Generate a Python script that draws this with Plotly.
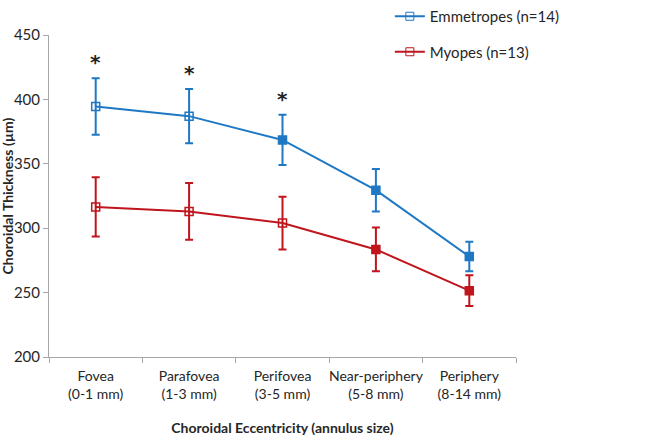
import plotly.graph_objects as go

categories = ["Fovea<br>(0-1 mm)", "Parafovea<br>(1-3 mm)", "Perifovea<br>(3-5 mm)",
              "Near-periphery<br>(5-8 mm)", "Periphery<br>(8-14 mm)"]
emm_mean = [394.5, 387, 368.5, 329.5, 278]
emm_sd = [22, 21, 19.5, 16.5, 11.5]
myo_mean = [316.5, 313, 304, 283.5, 251.5]
myo_sd = [23, 22, 20.5, 17, 12]
emm_symbols = ["square-open", "square-open", "square", "square", "square"]
myo_symbols = ["square-open", "square-open", "square-open", "square", "square"]
sig_cats = [0, 1, 2]

BLUE = "#1F78C4"
RED = "#C0151C"
FONT = "Lato"

fig = go.Figure()
fig.add_trace(go.Scatter(
    x=categories, y=emm_mean, mode="lines+markers", showlegend=False,
    line=dict(color=BLUE, width=2),
    marker=dict(symbol=emm_symbols, size=8, color=BLUE, line=dict(color=BLUE, width=1.5)),
    error_y=dict(type="data", array=emm_sd, color=BLUE, thickness=2, width=4)))
fig.add_trace(go.Scatter(
    x=categories, y=myo_mean, mode="lines+markers", showlegend=False,
    line=dict(color=RED, width=2),
    marker=dict(symbol=myo_symbols, size=8, color=RED, line=dict(color=RED, width=1.5)),
    error_y=dict(type="data", array=myo_sd, color=RED, thickness=2, width=4)))

fig.add_trace(go.Scatter(x=[None], y=[None], mode="lines+markers", name="Emmetropes (n=14)",
                         legendgroup="a",
                         line=dict(color=BLUE, width=2),
                         marker=dict(symbol="square-open", size=8, color=BLUE)))
fig.add_trace(go.Scatter(x=[None], y=[None], mode="lines+markers", name="Myopes (n=13)",
                         legendgroup="b",
                         line=dict(color=RED, width=2),
                         marker=dict(symbol="square-open", size=8, color=RED)))

for i in sig_cats:
    fig.add_annotation(x=categories[i], y=emm_mean[i] + emm_sd[i], text="<b>*</b>",
                       showarrow=False, yanchor="bottom", yshift=2,
                       font=dict(size=20, color="#222222", family="DejaVu Sans"))

fig.add_annotation(xref="paper", yref="paper", x=-0.089, y=0.5, textangle=-90,
                   text="<b>Choroidal Thickness (µm)</b>", showarrow=False,
                   xanchor="center", yanchor="middle",
                   font=dict(size=14, color="#262626", family=FONT))

fig.update_layout(
    width=663, height=436,
    margin=dict(l=49, r=147, t=35, b=79, autoexpand=False),
    plot_bgcolor="white", paper_bgcolor="white",
    font=dict(family=FONT, size=14, color="#262626"),
    legend=dict(xref="container", yref="container", x=0.588, y=1.021,
                xanchor="left", yanchor="top",
                font=dict(size=15), tracegroupgap=13, traceorder="grouped",
                itemwidth=30, bgcolor="rgba(0,0,0,0)"),
    xaxis=dict(showline=True, linecolor="#A6A6A6", linewidth=1,
               ticks="outside", tickson="boundaries", tickcolor="#A6A6A6", ticklen=5,
               tickfont=dict(size=14), tickangle=0, automargin=False,
               ticklabelstandoff=6,
               title=dict(text="<b>Choroidal Eccentricity (annulus size)</b>",
                          font=dict(size=14), standoff=23),
               showgrid=False, range=[-0.5, 4.5]),
    yaxis=dict(range=[200, 450], dtick=50, showline=True, linecolor="#A6A6A6", linewidth=1,
               ticks="outside", tickcolor="#A6A6A6", ticklen=5, tickfont=dict(size=15),
               automargin=False, showgrid=False, zeroline=False),
)

fig.write_html("out.html", config={"displayModeBar": False},
               post_script="document.body.style.margin='0';document.body.style.padding='0';")
